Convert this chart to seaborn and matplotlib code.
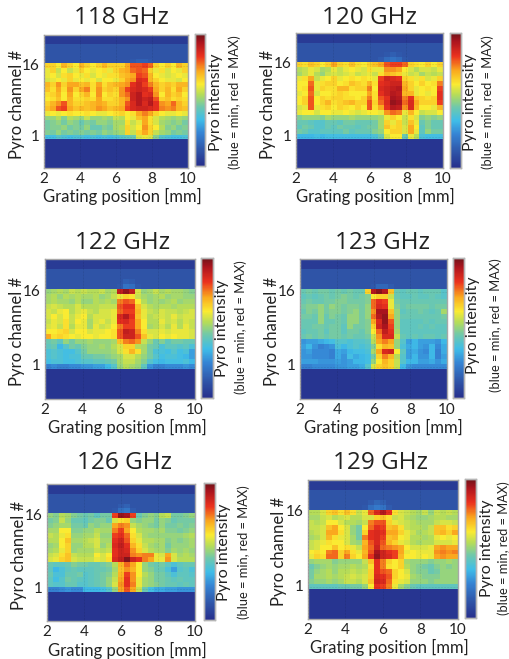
import numpy as np
import pandas as pd
import matplotlib
matplotlib.use("Agg")
import matplotlib.pyplot as plt
from matplotlib.colors import LinearSegmentedColormap
import seaborn as sns

titles = ["118 GHz", "120 GHz", "122 GHz", "123 GHz", "126 GHz", "129 GHz"]
x_ticks = [2, 4, 6, 8, 10]
y_ticks = [16, 1]

# intensity in percent, rows run from channel 16 down to channel 1
channels_118 = [
    [66,66,62,70,66,62,70,66,62,66,70,66,66,66,72,80,80,82,78,66,62,66,62,70,66],
    [60,66,56,62,56,60,66,62,60,62,64,60,66,70,72,78,80,78,66,60,64,58,62,60,66],
    [60,62,58,64,66,62,60,64,58,62,60,64,64,68,70,72,82,80,70,62,60,58,60,62,60],
    [58,60,62,60,66,60,62,60,62,58,62,62,60,66,72,74,86,84,70,66,62,60,60,58,62],
    [70,66,74,66,72,72,68,70,64,72,64,68,70,72,74,84,88,82,76,70,66,68,66,70,70],
    [68,64,72,64,74,66,72,76,64,74,66,68,66,74,82,86,88,86,82,72,66,70,64,72,66],
    [64,66,70,62,72,62,66,70,62,74,62,66,64,74,78,88,92,84,86,74,62,70,66,68,62],
    [62,64,68,62,70,64,64,66,64,72,64,64,66,70,74,88,92,88,90,80,66,68,64,66,64],
    [66,70,74,80,70,66,66,68,70,72,70,66,66,70,80,86,92,86,92,84,74,72,78,70,66],
    [68,72,80,82,72,68,70,68,70,74,72,68,70,72,82,86,88,88,86,84,76,74,76,70,68],
    [60,62,60,62,64,62,62,64,62,60,60,62,64,66,62,64,72,76,72,66,62,60,60,62,60],
    [50,50,54,48,54,52,50,56,50,50,52,50,56,54,62,60,68,72,64,58,54,52,50,52,50],
    [46,48,50,46,50,48,44,48,46,50,50,48,52,52,64,56,60,72,64,58,52,50,48,50,46],
    [46,48,48,50,46,48,46,50,44,44,48,46,52,54,66,58,62,74,66,62,54,48,50,46,48],
    [48,46,50,46,48,46,48,46,48,46,50,48,50,52,66,56,66,72,66,56,52,50,46,48,46],
    [36,36,40,38,36,38,38,36,38,36,38,36,38,40,42,44,58,60,58,48,40,38,36,36,38],
]
channels_120 = [
    [66,64,68,66,62,66,72,66,64,68,64,62,66,68,72,80,82,82,78,66,64,62,66,62,66],
    [54,56,60,58,52,54,60,56,60,62,60,58,64,60,60,74,74,72,62,58,54,58,58,56,60],
    [52,56,60,54,50,56,58,56,58,60,56,58,60,56,64,70,68,66,60,56,58,52,56,54,56],
    [60,64,72,56,60,62,66,60,62,64,62,64,62,60,82,88,86,84,66,64,60,64,58,60,66],
    [62,62,78,60,64,66,66,62,64,68,66,64,70,64,84,86,88,88,70,66,62,66,62,64,76],
    [62,64,80,60,66,64,64,70,70,64,66,66,76,62,86,88,90,92,72,66,60,62,64,62,82],
    [60,62,78,58,62,62,64,66,64,62,62,62,72,64,84,88,92,90,70,70,60,62,60,62,84],
    [62,66,80,62,66,64,66,66,64,64,62,66,76,64,80,84,94,92,76,84,68,66,64,66,84],
    [62,66,80,62,66,70,64,66,68,70,66,66,80,66,78,86,96,94,78,86,72,66,66,66,82],
    [58,60,80,60,64,66,62,66,64,62,66,62,80,64,72,84,92,90,74,86,70,62,62,60,70],
    [60,62,62,58,62,62,60,60,62,60,58,60,62,62,60,74,78,76,60,70,62,56,58,58,62],
    [48,50,50,50,48,52,50,50,50,52,50,50,50,50,52,60,66,62,56,64,58,48,50,48,50],
    [44,44,42,40,40,44,44,42,46,46,44,44,44,46,52,66,60,66,56,68,60,44,48,44,44],
    [42,46,44,40,40,44,42,46,44,44,42,44,46,46,52,68,64,66,58,72,62,42,48,44,44],
    [46,44,40,40,42,42,42,42,46,42,44,44,44,48,50,62,66,66,58,72,60,42,50,46,46],
    [34,34,34,36,34,36,36,36,36,36,36,36,36,38,44,58,62,62,44,60,54,38,36,36,36],
]
channels_122 = [
    [50,52,54,52,56,54,56,54,54,56,52,54,90,96,90,58,50,52,56,52,54,52,52,50,48],
    [52,54,50,54,52,54,52,52,54,50,52,56,60,66,64,56,52,50,52,54,50,52,52,50,50],
    [52,54,52,52,50,54,50,50,54,52,54,52,76,80,78,62,54,50,52,50,52,54,50,52,52],
    [56,58,56,54,54,58,54,54,54,56,56,56,80,84,84,68,58,54,52,54,54,52,54,54,54],
    [58,56,60,62,54,58,60,56,54,58,58,60,78,82,82,70,60,56,54,58,56,56,54,56,58],
    [58,62,58,62,56,60,62,54,58,58,58,60,86,92,84,68,60,54,56,58,56,60,56,58,58],
    [56,60,58,64,56,62,60,52,58,60,56,60,84,86,82,72,62,54,54,60,56,58,54,58,56],
    [58,60,56,64,54,60,60,52,60,56,58,62,76,82,82,72,62,52,54,58,54,60,54,60,56],
    [62,62,64,66,58,62,62,58,60,60,62,64,80,90,88,76,64,58,58,60,58,60,60,60,58],
    [72,64,66,64,62,60,62,62,60,62,62,64,80,88,88,80,68,60,58,62,60,62,60,60,58],
    [44,46,42,50,46,50,50,52,50,50,50,52,68,76,78,74,56,50,44,48,42,46,46,44,44],
    [42,44,34,40,46,44,48,50,50,52,50,54,58,66,66,54,52,46,44,38,42,42,40,42,38],
    [38,40,38,36,36,40,46,50,50,50,50,52,58,64,70,64,52,46,38,38,36,40,36,38,30],
    [38,40,38,36,38,38,44,44,46,46,48,50,52,58,58,54,50,46,40,36,38,38,36,34,30],
    [36,38,38,36,36,38,40,40,42,42,44,46,52,56,56,52,48,40,36,34,36,36,36,38,34],
    [24,26,24,24,26,26,28,28,30,30,34,40,50,54,52,50,42,28,24,24,26,26,26,28,26],
]
channels_123 = [
    [44,46,44,46,46,44,46,44,46,44,44,66,92,97,92,68,44,42,44,44,42,44,44,44,40],
    [42,44,42,44,46,44,46,48,46,44,46,48,62,66,66,56,44,42,42,44,42,42,44,42,40],
    [44,46,44,44,46,46,48,48,46,46,46,48,78,84,82,60,46,44,44,44,44,44,44,44,44],
    [46,48,48,50,46,50,48,46,48,48,46,50,78,86,84,60,48,44,46,46,46,46,44,46,46],
    [44,48,46,50,46,48,48,46,48,50,46,50,74,94,94,68,50,42,44,44,46,44,42,44,52],
    [46,46,44,50,44,48,46,44,50,50,46,50,78,92,96,72,50,44,44,44,44,44,44,44,46],
    [44,44,44,50,44,44,46,44,50,50,46,48,72,86,96,80,50,42,42,42,42,44,42,44,44],
    [44,44,46,46,44,46,46,42,50,46,46,48,66,88,94,82,50,42,42,42,44,42,44,42,42],
    [42,44,44,46,42,46,46,42,46,46,44,48,62,78,90,84,52,42,42,42,42,42,42,42,42],
    [44,46,44,46,44,46,46,44,46,44,44,46,56,74,86,86,56,44,42,44,42,44,44,42,44],
    [28,30,30,32,34,36,40,40,38,40,40,42,54,72,76,72,50,40,30,34,30,30,30,28,34],
    [30,34,28,24,26,28,38,34,38,40,38,40,48,64,70,68,50,38,32,34,30,28,34,26,32],
    [28,30,26,26,26,24,32,30,34,36,36,38,52,72,86,88,62,42,30,32,28,26,34,24,32],
    [28,28,26,26,26,24,32,28,36,32,34,36,46,66,76,70,54,40,30,34,28,28,34,24,30],
    [30,30,30,28,28,28,30,28,30,34,34,36,50,62,70,66,56,40,34,34,30,30,32,28,32],
    [24,24,26,26,26,26,28,28,30,30,32,40,58,66,68,66,56,34,28,26,26,26,26,26,26],
]
channels_126 = [
    [50,48,54,52,48,46,44,46,42,46,46,82,96,94,82,44,48,50,48,54,56,46,46,48,50],
    [46,48,56,50,44,44,42,46,48,48,44,58,64,66,50,48,50,50,46,50,48,44,46,46,46],
    [48,50,52,52,46,46,44,50,48,50,50,72,76,74,56,52,50,48,46,50,46,46,48,46,48],
    [52,52,62,62,48,48,50,50,54,52,52,76,82,72,62,54,52,52,50,52,48,48,46,48,50],
    [56,54,60,64,50,50,52,52,56,50,50,82,84,78,64,58,52,50,50,50,50,50,50,52,54],
    [54,54,62,68,52,52,54,56,58,52,52,84,88,80,66,60,54,54,52,52,48,50,48,50,52],
    [50,52,62,66,50,50,54,54,58,50,54,86,90,84,70,64,56,52,50,52,46,50,50,50,52],
    [52,54,60,66,50,52,52,52,56,54,56,84,88,86,74,66,58,54,52,52,48,52,50,52,50],
    [56,58,64,68,56,54,54,54,62,58,62,84,88,88,76,74,76,76,60,58,72,58,52,54,52],
    [58,60,66,68,58,56,56,56,60,58,64,86,90,98,88,84,76,72,60,60,74,58,54,54,54],
    [44,42,42,44,48,46,46,44,44,46,48,54,70,78,72,62,50,46,44,46,42,38,42,44,44],
    [42,34,38,42,44,42,42,42,44,44,46,52,68,74,70,62,50,48,44,44,38,30,40,42,38],
    [44,38,38,44,44,46,40,42,44,46,48,54,70,82,74,62,54,50,46,46,42,38,42,42,40],
    [42,36,40,46,44,42,40,42,44,46,50,56,72,84,74,60,52,50,46,46,44,42,44,42,42],
    [42,40,40,44,44,40,40,42,44,46,50,58,74,84,76,60,52,50,48,46,44,44,42,44,42],
    [24,24,26,28,26,26,34,34,34,36,40,50,72,80,72,56,44,36,32,32,30,30,28,28,28],
]
channels_129 = [
    [54,54,58,66,68,64,68,64,56,60,78,86,92,84,64,58,56,54,52,56,50,56,54,56,54],
    [52,52,56,58,54,56,58,54,54,58,58,66,68,64,56,58,54,52,50,50,52,54,54,52,52],
    [56,54,56,62,62,58,54,54,52,56,76,80,80,66,60,58,56,54,52,52,52,56,58,58,56],
    [56,56,58,68,72,62,58,50,46,62,78,84,82,68,70,64,56,54,54,52,56,68,68,64,66],
    [54,56,58,72,72,64,58,50,46,66,84,86,84,72,72,66,60,56,52,54,56,68,70,66,72],
    [52,54,58,70,64,60,58,52,46,76,84,86,82,68,70,62,60,54,54,52,54,60,62,60,62],
    [56,58,60,64,62,62,58,52,50,70,80,86,80,70,66,60,58,54,52,54,54,58,58,58,60],
    [56,58,62,62,68,62,64,60,56,72,78,88,78,76,74,72,62,58,58,58,60,72,74,72,72],
    [62,64,62,76,78,66,72,64,60,70,80,94,88,84,82,72,60,62,60,60,60,74,76,74,76],
    [60,66,64,78,78,66,76,66,62,72,84,96,88,86,82,70,62,62,60,62,60,72,74,72,72],
    [50,52,52,52,48,50,50,50,50,56,68,84,76,66,62,66,52,50,50,50,48,50,50,52,50],
    [44,48,50,52,50,52,52,54,52,54,64,84,76,64,62,66,54,50,48,46,44,48,50,48,50],
    [46,50,52,54,50,54,54,56,54,56,66,84,80,78,66,62,58,50,48,48,44,46,50,50,50],
    [46,52,52,54,52,54,56,58,56,58,66,86,84,80,66,62,60,52,50,48,48,48,50,50,50],
    [48,50,50,52,50,52,56,56,54,58,68,88,86,78,64,60,58,50,50,50,48,50,50,50,50],
    [42,42,42,42,42,44,44,46,46,50,62,84,82,76,60,52,48,44,42,42,42,42,42,42,42],
]

# row just above channel 16, the faint stray signal over the beam
above_118 = [12,12,12,12,12,12,12,12,12,12,12,12,12,12,12,13,15,15,13,12,12,12,12,12,12]
above_120 = [12,12,12,12,12,12,12,12,12,12,12,12,12,12,14,18,20,18,13,12,12,12,12,12,12]
above_122 = [12,12,12,12,12,12,12,12,12,12,12,12,13,20,19,13,12,12,12,12,12,12,12,12,12]
above_123 = [12,12,12,12,12,12,12,12,12,12,12,12,13,17,17,14,12,12,12,12,12,12,12,12,12]
above_126 = [12,12,12,12,12,12,12,12,12,12,12,13,19,21,14,12,12,12,12,12,12,12,12,12,12]
above_129 = [12,12,12,12,12,12,12,12,12,13,19,22,20,14,12,12,12,12,12,12,12,12,12,12,12]

top_dark = 4
top_mid = 12
floor = 2

all_channels = [channels_118, channels_120, channels_122, channels_123, channels_126, channels_129]
all_above = [above_118, above_120, above_122, above_123, above_126, above_129]

# pixel boxes: heatmap x0,x1,y0,y1 then colorbar x0,x1,y0,y1
boxes = [
    (44, 188, 35, 168, 195, 205, 34, 166),
    (296, 443, 33, 168, 450, 461, 33, 168),
    (45, 195, 259, 399, 201, 213, 258, 398),
    (300, 447, 259, 399, 453, 464, 258, 398),
    (47, 195, 484, 621, 204, 215, 483, 620),
    (308, 458, 480, 619, 465, 476, 479, 618),
]
# pixel centres: title, xlabel, ylabel, colorbar label, small colorbar label
text_pos = [
    ((121, 18), (122, 196), (17, 104), (216, 102), (235, 102)),
    ((370, 18), (375, 196), (268, 104), (470, 102), (488, 102)),
    ((123, 243), (127, 427), (17, 331), (222, 328), (241, 327)),
    ((383, 243), (383, 427), (272, 331), (473, 325), (496, 325)),
    ((125, 463), (127, 650), (19, 555), (224, 552), (244, 552)),
    ((381, 463), (389, 647), (279, 551), (487, 548), (504, 548)),
]

W, H = 510, 659
sns.set_style("white")
plt.rcParams["font.family"] = ["Lato", "DejaVu Sans"]

cmap = LinearSegmentedColormap.from_list("muted_jet", [
    (0.00, "#262f8c"), (0.12, "#2f55a8"), (0.25, "#3584d4"), (0.35, "#3fbde8"),
    (0.45, "#6ec8ac"), (0.54, "#b4dc5a"), (0.62, "#faeb32"), (0.72, "#faaa1e"),
    (0.83, "#eb321e"), (0.94, "#aa141e"), (1.00, "#6e1419"),
])


def panel_frame(channels, above):
    rows = [[top_dark] * 25, [top_dark] * 25, [top_mid] * 25, [top_mid] * 25]
    rows += [[max(v - 5, top_mid) for v in above], above]
    rows += channels
    rows += [[floor] * 25 for _ in range(6)]
    return pd.DataFrame(rows)


def px_axes(fig, x0, x1, y0, y1):
    return fig.add_axes([x0 / W, 1 - y1 / H, (x1 - x0) / W, (y1 - y0) / H])


def px_text(fig, pos, s, **kw):
    fig.text(pos[0] / W, 1 - pos[1] / H, s, ha="center", va="center", color="#222222", **kw)


fig = plt.figure(figsize=(W / 100, H / 100), dpi=100)

for i, title in enumerate(titles):
    b = boxes[i]
    ax = px_axes(fig, b[0], b[1], b[2], b[3])
    cax = px_axes(fig, b[4], b[5], b[6], b[7])
    df = panel_frame(all_channels[i], all_above[i])
    sns.heatmap(df, ax=ax, cbar_ax=cax, cmap=cmap, vmin=0, vmax=100)

    ax.set_xticks([(t - 2) / 8 * 25 for t in x_ticks])
    ax.set_xticklabels(x_ticks, rotation=0, fontsize=11, color="#222222")
    ax.set_yticks([6.5, 21.5])
    ax.set_yticklabels(y_ticks, rotation=0, fontsize=11, color="#222222")
    ax.tick_params(length=0, pad=3)
    ax.grid(True, ls=":", lw=0.4, color="black", alpha=0.25)
    ax.set_axisbelow(False)
    for side in ax.spines.values():
        side.set_visible(True)
        side.set_color("#a8a8a8")
        side.set_linewidth(1.0)

    cax.set_yticks([])
    for side in cax.spines.values():
        side.set_visible(True)
        side.set_color("#b5b5b5")
        side.set_linewidth(1.0)

    p = text_pos[i]
    px_text(fig, p[0], title, fontsize=17.5, family=["Open Sans", "DejaVu Sans"])
    px_text(fig, p[1], "Grating position [mm]", fontsize=12)
    px_text(fig, p[2], "Pyro channel #", fontsize=12, rotation=90)
    px_text(fig, p[3], "Pyro intensity", fontsize=11.5, rotation=90)
    px_text(fig, p[4], "(blue = min, red = MAX)", fontsize=9.3, rotation=90)

fig.savefig("out.png", dpi=100)
